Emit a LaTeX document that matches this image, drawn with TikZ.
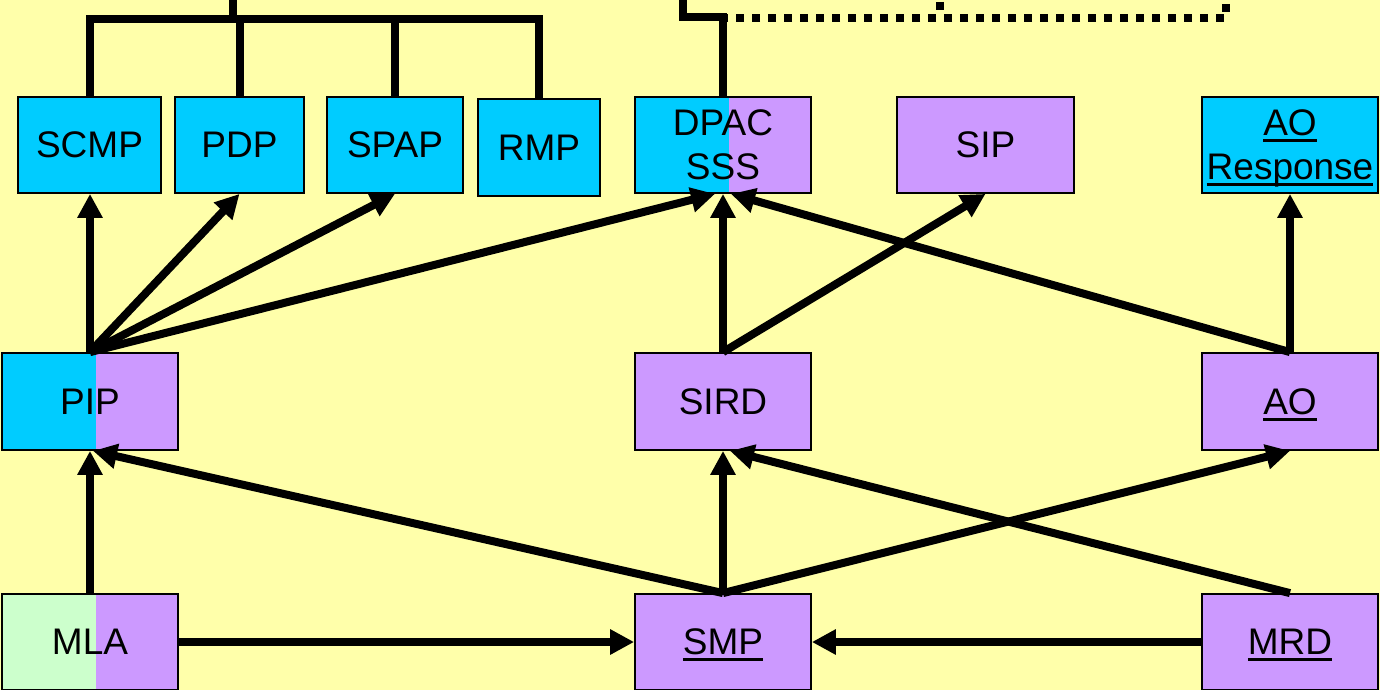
\documentclass[tikz,border=0pt]{standalone}
\usepackage{fontspec}
\setmainfont{Liberation Sans}
\usetikzlibrary{arrows.meta}
\definecolor{bg}{HTML}{FFFFAA}
\definecolor{cy}{HTML}{00CCFF}
\definecolor{lav}{HTML}{CC99FF}
\definecolor{mint}{HTML}{CCFFCC}
\newcommand\ulx[1]{\setbox0\hbox{#1}\dp0=0pt\relax\leavevmode\rlap{\raisebox{0pt}[0pt][0pt]{\rule[-6.5pt]{\wd0}{3pt}}}\box0}
\begin{document}
\begin{tikzpicture}[x=1pt,y=-1pt,
  box/.style={draw=black,line width=1.8pt,inner sep=0pt,align=center,
    font=\fontsize{37}{44}\selectfont,minimum height=96pt},
  wide/.style={minimum width=176pt},
  split/.style 2 args={fill=#2,path picture={\fill[#1] (path picture bounding box.south west) rectangle ([xshift=94pt]path picture bounding box.north west);}},
  arr/.style={line width=8pt,-{Triangle[length=24pt,width=24pt]}},
  tree/.style={line width=8pt,line join=miter},
  dots/.style={line width=8pt,dash pattern=on 8pt off 8pt}]
\fill[bg] (0,0) rectangle (1380,690);
\useasboundingbox (0,0) rectangle (1380,690);
% top row
\node[box,fill=cy,minimum width=143pt] (SCMP) at (89.5,145) {SCMP};
\node[box,fill=cy,minimum width=129pt] (PDP) at (239.5,145) {PDP};
\node[box,fill=cy,minimum width=136pt] (SPAP) at (395,145) {SPAP};
\node[box,fill=cy,minimum width=122pt,minimum height=97pt] (RMP) at (539,147.5) {RMP};
\node[box,split={cy}{lav},wide] (DPAC) at (723,145) {DPAC\\SSS};
\node[box,fill=lav,minimum width=177pt] (SIP) at (985.5,145) {SIP};
\node[box,fill=cy,wide] (AOR) at (1290,145) {\ulx{AO}\\\ulx{Response}};
% middle row
\node[box,split={cy}{lav},wide,minimum height=97pt] (PIP) at (90,401.5) {PIP};
\node[box,fill=lav,wide,minimum height=97pt] (SIRD) at (723,401.5) {SIRD};
\node[box,fill=lav,wide,minimum height=97pt] (AO) at (1290,401.5) {\ulx{AO}};
% bottom row
\node[box,split={mint}{lav},wide] (MLA) at (90,642) {MLA};
\node[box,fill=lav,wide] (SMP) at (723,642) {\ulx{SMP}};
\node[box,fill=lav,wide] (MRD) at (1290,642) {\ulx{MRD}};
% bus lines at the top
\coordinate (busL) at (233,19);
\coordinate (topL) at (233,0);
\coordinate (topR) at (683,0);
\coordinate (busR) at (683,17);
\coordinate (dotA) at (940,2);
\coordinate (dotB) at (1226,4);
\draw[tree] (SCMP.north) |- (RMP.north |- busL) -- (RMP.north);
\draw[tree] (PDP.north) -- (PDP.north |- busL);
\draw[tree] (SPAP.north) -- (SPAP.north |- busL);
\draw[tree] (topL) -- (busL);
\draw[tree] (topR) -- (busR) -| (DPAC.north);
\draw[dots] (dotB) |- (DPAC.north |- 0,18);
\draw[dots] (dotA) -- (dotA |- 0,10);
% arrows from PIP
\draw[arr] (PIP.north) -- (PIP.north |- SCMP.south);
\draw[arr] (PIP.north) -- (PDP.south);
\draw[arr] (PIP.north) -- (SPAP.south);
\draw[arr] (PIP.north) -- ([xshift=-8pt]DPAC.south);
% arrows from SIRD
\draw[arr] (SIRD.north) -- (DPAC.south);
\draw[arr] (SIRD.north) -- (SIP.south);
% arrows from AO
\draw[arr] (AO.north) -- ([xshift=8pt]DPAC.south);
\draw[arr] (AO.north) -- (AOR.south);
% bottom arrows
\draw[arr] (MLA.north) -- (PIP.south);
\draw[arr] (SMP.north) -- ([xshift=3pt]PIP.south);
\draw[arr] (SMP.north) -- (SIRD.south);
\draw[arr] (SMP.north) -- (AO.south);
\draw[arr] (MRD.north) -- ([xshift=7pt]SIRD.south);
\draw[arr] (MLA.east) -- (SMP.west);
\draw[arr] (MRD.west) -- (SMP.east);
\end{tikzpicture}
\end{document}
